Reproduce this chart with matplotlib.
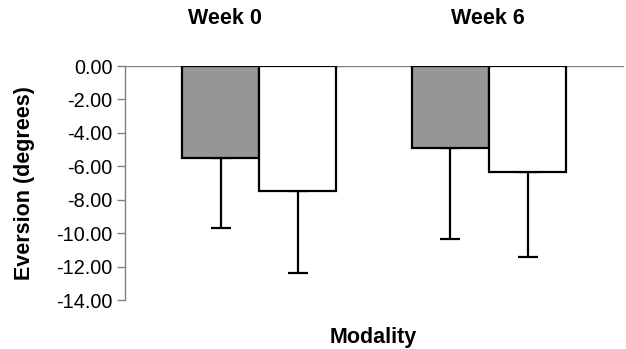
import matplotlib
matplotlib.use("Agg")
import matplotlib.pyplot as plt
import numpy as np

plt.rcParams['font.family'] = ['Liberation Sans', 'DejaVu Sans']

categories = ["Week 0", "Week 6"]
series_a = [-5.5, -4.9]     # gray bars
series_a_err = [4.2, 5.45]
series_b = [-7.5, -6.35]    # white bars
series_b_err = [4.9, 5.1]
yticks = [0, -2, -4, -6, -8, -10, -12, -14]

fig = plt.figure(figsize=(6.26, 3.49), dpi=100)
ax = fig.add_axes([125/626, 1-300/349, (624-125)/626, (300-66)/349])

x = np.arange(len(categories))
w = 0.335
ek = dict(ecolor='black', elinewidth=1.6, capsize=7, capthick=1.6)
ax.bar(x - w/2, series_a, w, color='#969696', edgecolor='black', linewidth=1.6, zorder=3)
ax.bar(x + w/2, series_b, w, color='white', edgecolor='black', linewidth=1.6, zorder=3)
ax.errorbar(x - w/2, series_a, yerr=[series_a_err, np.zeros(2)], fmt='none', zorder=2, **ek)
ax.errorbar(x + w/2, series_b, yerr=[series_b_err, np.zeros(2)], fmt='none', zorder=2, **ek)

ax.set_xlim(-0.583, 1.587)
ax.set_ylim(-14, 0)
ax.axhline(0, color='#808080', linewidth=1, zorder=1)
ax.set_yticks(yticks)
ax.set_yticklabels([f"{v:.2f}" for v in yticks], fontsize=14.3)
ax.tick_params(axis='y', length=6, width=1, color='#808080', pad=3)
ax.set_xticks([])
for s in ['top', 'right', 'bottom']:
    ax.spines[s].set_visible(False)
ax.spines['left'].set_color('#808080')
ax.spines['left'].set_linewidth(1)

# category labels at top
fig.text(225/626, 1-19/349, categories[0], ha='center', va='center', fontsize=15.5, fontweight='bold')
fig.text(488/626, 1-19/349, categories[1], ha='center', va='center', fontsize=15.5, fontweight='bold')

fig.text(373/626, 1-337/349, "Modality", ha='center', va='center', fontsize=15.5, fontweight='bold')
fig.text(25/626, 1-183/349, "Eversion (degrees)", ha='center', va='center', rotation=90, fontsize=15.5, fontweight='bold')

fig.savefig("out.png", dpi=100)
